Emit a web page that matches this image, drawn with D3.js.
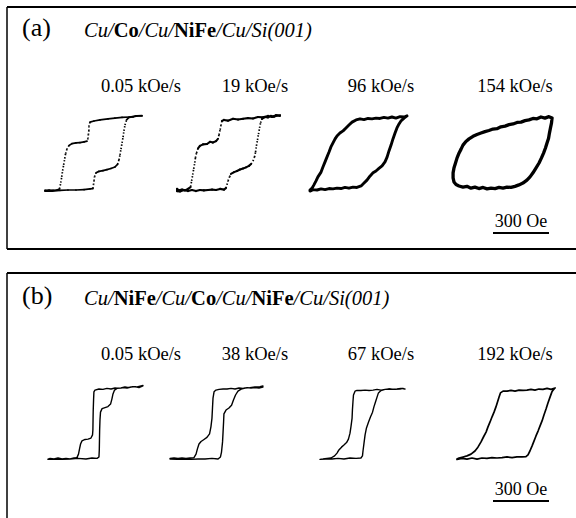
<!DOCTYPE html>
<html><head><meta charset="utf-8">
<script src="https://cdn.jsdelivr.net/npm/d3@7"></script>
<style>html,body{margin:0;padding:0;background:#fff;} svg{display:block} text{font-family:"Liberation Serif","DejaVu Serif",serif;}</style>
</head><body><div id="chart"></div>
<script>
// ---------- data ----------
const panelLabels = ["(a)", "(b)"];
const titleA = [["Cu/","i"],["Co","b"],["/Cu/","i"],["NiFe","b"],["/Cu/Si(001)","i"]];
const titleB = [["Cu/","i"],["NiFe","b"],["/Cu/","i"],["Co","b"],["/Cu/","i"],["NiFe","b"],["/Cu/Si(001)","i"]];
const ratesA = ["0.05 kOe/s", "19 kOe/s", "96 kOe/s", "154 kOe/s"];
const ratesB = ["0.05 kOe/s", "38 kOe/s", "67 kOe/s", "192 kOe/s"];
const scaleBarOe = 300;
const scaleBarLabel = "300 Oe";

// loops: [field (Oe), normalised M], descending branch then ascending branch
const loopA1 = [[271,1.03],[237,1.03],[202,1.0],[156,0.99],[115,0.97],[75,0.95],[29,0.92],[-6,0.89],[-29,0.86],[-35,0.75],[-35,0.64],[-38,0.53],[-40,0.42],[-46,0.34],[-63,0.32],[-87,0.30],[-110,0.29],[-133,0.27],[-150,0.22],[-162,0.12],[-170,-0.01],[-176,-0.18],[-182,-0.34],[-188,-0.51],[-193,-0.67],[-199,-0.84],[-205,-0.97],[-219,-1.0],[-242,-1.01],[-265,-1.0],[-288,-1.01],
  [-288,-1.03],[-248,-1.03],[-202,-1.01],[-156,-1.0],[-110,-1.0],[-63,-0.99],[-29,-0.97],[-12,-0.96],[-9,-0.86],[-6,-0.75],[-3,-0.64],[6,-0.53],[23,-0.49],[46,-0.47],[69,-0.44],[92,-0.41],[115,-0.37],[130,-0.30],[138,-0.18],[144,-0.04],[150,0.12],[156,0.29],[162,0.45],[167,0.62],[173,0.78],[182,0.92],[196,0.99],[219,1.0],[242,1.03],[271,1.04]];
const loopA2 = [[300,1.03],[277,1.05],[254,1.0],[231,1.03],[202,0.99],[173,1.0],[144,0.96],[115,0.97],[87,0.95],[58,0.93],[29,0.95],[0,0.90],[-23,0.92],[-35,0.89],[-40,0.78],[-46,0.64],[-52,0.51],[-58,0.40],[-69,0.34],[-87,0.30],[-104,0.32],[-121,0.26],[-144,0.25],[-162,0.21],[-173,0.14],[-182,0.01],[-188,-0.12],[-193,-0.29],[-199,-0.45],[-205,-0.62],[-211,-0.78],[-216,-0.92],[-231,-0.97],[-248,-1.01],[-265,-0.99],[-283,-1.01],[-294,-0.97],
  [-294,-1.03],[-277,-1.04],[-254,-1.0],[-231,-1.03],[-208,-1.0],[-185,-1.03],[-162,-1.0],[-139,-1.01],[-115,-1.0],[-92,-0.99],[-69,-1.0],[-46,-0.97],[-23,-0.99],[-12,-0.95],[-6,-0.86],[0,-0.75],[9,-0.64],[17,-0.56],[35,-0.51],[52,-0.48],[69,-0.44],[87,-0.41],[104,-0.38],[121,-0.34],[133,-0.29],[144,-0.21],[153,-0.10],[159,0.04],[164,0.21],[170,0.37],[176,0.53],[182,0.70],[188,0.84],[196,0.95],[213,1.0],[231,0.99],[248,1.03],[265,1.01],[283,1.04],[300,1.05]];
const loopA3 = [[277,1.03],[260,1.0],[237,1.01],[213,0.97],[190,1.0],[167,0.97],[144,0.99],[121,0.96],[98,0.97],[75,0.95],[52,0.96],[29,0.93],[6,0.95],[-17,0.92],[-40,0.86],[-58,0.78],[-75,0.70],[-92,0.62],[-110,0.56],[-127,0.48],[-138,0.40],[-150,0.29],[-162,0.18],[-173,0.04],[-185,-0.10],[-196,-0.23],[-208,-0.37],[-219,-0.51],[-237,-0.64],[-248,-0.75],[-260,-0.86],[-271,-0.95],[-283,-1.0],
  [-283,-1.03],[-265,-0.99],[-242,-1.0],[-219,-0.97],[-196,-0.99],[-173,-0.96],[-150,-0.97],[-127,-0.95],[-104,-0.96],[-81,-0.93],[-58,-0.95],[-35,-0.92],[-12,-0.93],[12,-0.89],[29,-0.81],[46,-0.73],[63,-0.62],[81,-0.53],[98,-0.48],[115,-0.41],[133,-0.34],[150,-0.23],[162,-0.10],[173,0.07],[185,0.23],[196,0.40],[208,0.56],[219,0.70],[231,0.81],[242,0.89],[260,0.97],[277,1.03]];
const loopA4 = [[283,0.97],[265,1.01],[242,0.97],[219,1.0],[196,0.95],[173,0.96],[150,0.92],[127,0.90],[104,0.86],[81,0.85],[58,0.81],[35,0.79],[12,0.75],[-12,0.73],[-35,0.68],[-58,0.67],[-81,0.63],[-104,0.60],[-127,0.56],[-150,0.52],[-173,0.47],[-196,0.40],[-214,0.33],[-231,0.23],[-242,0.12],[-254,0.01],[-265,-0.12],[-274,-0.26],[-283,-0.40],[-288,-0.53],[-288,-0.67],
  [-283,-0.78],[-271,-0.85],[-254,-0.89],[-231,-0.92],[-208,-0.90],[-185,-0.95],[-162,-0.92],[-139,-0.96],[-115,-0.93],[-92,-0.97],[-69,-0.95],[-46,-0.96],[-23,-0.93],[0,-0.95],[23,-0.92],[46,-0.93],[69,-0.90],[92,-0.86],[115,-0.81],[138,-0.73],[156,-0.64],[173,-0.53],[190,-0.40],[208,-0.26],[222,-0.12],[234,0.01],[245,0.15],[254,0.29],[263,0.42],[268,0.56],[274,0.70],[280,0.84],[283,0.97]];
const loopB1 = [[271,1.06],[248,1.01],[225,1.04],[202,1.03],[179,1.0],[156,1.01],[133,0.99],[110,1.0],[87,0.97],[63,0.99],[40,0.96],[17,0.97],[-6,0.94],[-12,0.89],[-14,0.66],[-16,0.37],[-17,0.09],[-18,-0.20],[-20,-0.34],[-29,-0.43],[-46,-0.46],[-63,-0.47],[-81,-0.51],[-89,-0.60],[-95,-0.74],[-101,-0.89],[-110,-0.99],[-127,-1.0],[-150,-1.03],[-173,-1.01],[-196,-1.03],[-219,-1.0],[-242,-1.03],[-265,-1.01],[-277,-1.03],
  [-277,-1.04],[-237,-1.03],[-196,-1.04],[-150,-1.03],[-104,-1.01],[-58,-1.03],[-23,-1.0],[6,-1.01],[17,-0.97],[19,-0.77],[20,-0.49],[21,-0.20],[23,0.09],[26,0.31],[35,0.41],[52,0.44],[69,0.47],[84,0.54],[92,0.69],[98,0.83],[107,0.94],[121,0.99],[144,1.0],[167,1.03],[190,1.01],[214,1.04],[237,1.03],[260,1.06],[271,1.07]];
const loopB2 = [[265,1.03],[242,1.0],[219,1.01],[196,1.0],[173,1.01],[150,0.99],[127,1.0],[104,0.97],[81,0.99],[58,0.97],[35,0.97],[12,0.96],[-6,0.94],[-17,0.89],[-23,0.71],[-26,0.43],[-29,0.14],[-35,-0.11],[-43,-0.31],[-58,-0.41],[-75,-0.47],[-92,-0.53],[-104,-0.60],[-113,-0.74],[-121,-0.89],[-133,-0.99],[-156,-1.0],[-179,-1.01],[-202,-1.0],[-225,-1.01],[-248,-1.0],[-271,-1.01],
  [-271,-1.03],[-231,-1.04],[-190,-1.03],[-150,-1.04],[-110,-1.03],[-69,-1.03],[-29,-1.01],[6,-1.03],[20,-0.97],[26,-0.83],[32,-0.54],[35,-0.26],[38,0.03],[40,0.26],[52,0.37],[69,0.43],[84,0.51],[95,0.66],[107,0.80],[121,0.91],[139,0.97],[162,1.0],[190,1.01],[219,1.03],[248,1.04],[265,1.06]];
const loopB3 = [[242,0.97],[219,0.99],[196,0.97],[173,0.96],[150,0.97],[127,0.96],[104,0.94],[81,0.96],[58,0.94],[35,0.93],[12,0.94],[-12,0.93],[-35,0.93],[-46,0.91],[-55,0.80],[-58,0.60],[-61,0.37],[-63,0.14],[-69,-0.09],[-75,-0.29],[-84,-0.46],[-95,-0.56],[-110,-0.63],[-124,-0.69],[-139,-0.77],[-150,-0.86],[-164,-0.94],[-185,-1.0],[-208,-1.01],[-231,-1.03],[-248,-1.04],
  [-248,-1.04],[-214,-1.03],[-179,-1.03],[-144,-1.01],[-110,-1.03],[-75,-1.0],[-40,-1.01],[-12,-1.0],[-3,-0.94],[0,-0.80],[6,-0.57],[12,-0.34],[20,-0.14],[32,0.03],[43,0.17],[55,0.31],[63,0.46],[72,0.60],[81,0.74],[89,0.86],[104,0.93],[127,0.96],[156,0.97],[185,0.96],[213,0.97],[231,0.99],[242,0.97]];
const loopB4 = [[283,1.0],[260,0.96],[237,0.99],[213,0.96],[190,0.97],[167,0.94],[144,0.96],[121,0.94],[98,0.93],[75,0.94],[52,0.91],[29,0.93],[6,0.91],[-17,0.91],[-32,0.86],[-40,0.74],[-49,0.60],[-58,0.46],[-69,0.31],[-81,0.17],[-92,0.03],[-104,-0.11],[-115,-0.26],[-130,-0.40],[-144,-0.54],[-162,-0.69],[-179,-0.80],[-202,-0.89],[-225,-0.94],[-248,-0.97],[-271,-1.0],[-283,-1.03],
  [-283,-1.04],[-254,-1.01],[-225,-1.03],[-196,-1.0],[-167,-1.03],[-139,-1.0],[-110,-1.01],[-81,-0.99],[-52,-1.0],[-23,-0.99],[6,-0.97],[35,-0.99],[63,-0.97],[92,-0.97],[115,-0.96],[127,-0.91],[138,-0.80],[150,-0.66],[162,-0.51],[173,-0.37],[185,-0.23],[196,-0.09],[208,0.06],[219,0.23],[231,0.40],[242,0.57],[254,0.74],[265,0.89],[277,0.97],[283,1.0]];

// ---------- layout ----------
const W = 576, H = 518;
const pxPerOe = 1 / 5.77;
const serif = "Liberation Serif, DejaVu Serif, serif";

const panels = [
  { label: panelLabels[0], title: titleA, rates: ratesA, loops: [loopA1, loopA2, loopA3, loopA4],
    top: 7, bottom: 249, centers: [95, 228, 359, 503], yRange: [190, 117],
    widths: [1.7, 2.1, 2.9, 3.3], dotted: [true, true, false, false], dy: 0 },
  { label: panelLabels[1], title: titleB, rates: ratesB, loops: [loopB1, loopB2, loopB3, loopB4],
    top: 273, bottom: null, centers: [96, 217, 363, 506], yRange: [458, 388],
    widths: [1.4, 1.4, 1.4, 1.7], dotted: [false, false, false, false], dy: 268 }
];
const rateX = [141, 255, 381, 515];

const svg = d3.select("#chart").append("svg").attr("width", W).attr("height", H);
svg.append("rect").attr("width", W).attr("height", H).attr("fill", "#fff");

function txt(g) { return g.append("text").style("font-family", serif).attr("fill", "#000"); }

panels.forEach(p => {
  const g = svg.append("g");
  // frame
  g.append("line").attr("x1", 7).attr("x2", W + 2).attr("y1", p.top).attr("y2", p.top)
    .attr("stroke", "#000").attr("stroke-width", 2);
  g.append("line").attr("x1", 7).attr("x2", 7).attr("y1", p.top).attr("y2", p.bottom == null ? H + 2 : p.bottom)
    .attr("stroke", "#000").attr("stroke-width", 1.5);
  if (p.bottom != null) {
    g.append("line").attr("x1", 7).attr("x2", W + 2).attr("y1", p.bottom).attr("y2", p.bottom)
      .attr("stroke", "#000").attr("stroke-width", 2);
  }
  // panel label
  txt(g).attr("x", 22).attr("y", 36 + p.dy).style("font-size", "26px").text(p.label);
  // title
  const t = txt(g).attr("x", 84).attr("y", 37 + p.dy).style("font-size", "20.5px");
  p.title.forEach(([s, st]) => {
    t.append("tspan").text(s)
      .style("font-style", st === "i" ? "italic" : "normal")
      .style("font-weight", st === "b" ? "bold" : "normal");
  });
  // rate labels
  p.rates.forEach((r, i) => {
    txt(g).attr("x", rateX[i]).attr("y", 92 + p.dy).attr("text-anchor", "middle")
      .style("font-size", "18.5px").text(r);
  });
  // loops
  const y = d3.scaleLinear().domain([-1, 1]).range(p.yRange);
  p.loops.forEach((loop, i) => {
    const c = p.centers[i];
    const x = d3.scaleLinear().domain([-300, 300]).range([c - 300 * pxPerOe, c + 300 * pxPerOe]);
    if (!p.dotted[i]) {
      g.append("path").datum(loop)
        .attr("d", d3.line().x(d => x(d[0])).y(d => y(d[1])))
        .attr("fill", "none").attr("stroke", "#000").attr("stroke-width", p.widths[i])
        .attr("stroke-linejoin", "round").attr("stroke-linecap", "round");
    } else {
      for (let k = 1; k < loop.length; k++) {
        const a = loop[k - 1], b = loop[k];
        const x1 = x(a[0]), y1 = y(a[1]), x2 = x(b[0]), y2 = y(b[1]);
        const steep = Math.abs(y2 - y1) > 1.4 * Math.abs(x2 - x1) && Math.abs(y2 - y1) > 2.5;
        g.append("line").attr("x1", x1).attr("y1", y1).attr("x2", x2).attr("y2", y2)
          .attr("stroke", "#000")
          .attr("stroke-width", steep ? 1.7 : p.widths[i])
          .attr("stroke-dasharray", steep ? "1.4 2.0" : null)
          .attr("stroke-linecap", steep ? "butt" : "round");
      }
    }
  });
  // scale bar
  const barLen = scaleBarOe * pxPerOe;
  const bx = 521;
  txt(g).attr("x", bx).attr("y", 227 + p.dy).attr("text-anchor", "middle")
    .style("font-size", "18px").text(scaleBarLabel);
  g.append("line").attr("x1", bx - barLen / 2 - 2).attr("x2", bx + barLen / 2 + 2)
    .attr("y1", 233 + p.dy).attr("y2", 233 + p.dy)
    .attr("stroke", "#000").attr("stroke-width", 2);
});
</script>
</body></html>
